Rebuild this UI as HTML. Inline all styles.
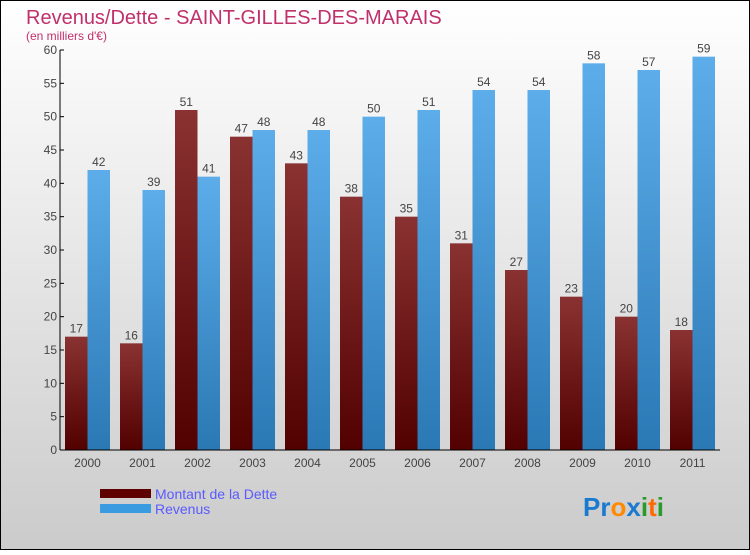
<!DOCTYPE html>
<html><head><meta charset="utf-8"><style>
html,body{margin:0;padding:0}
body{width:750px;height:550px;overflow:hidden;font-family:"Liberation Sans","DejaVu Sans",sans-serif}
</style></head><body>
<svg id="chart" width="750" height="550" xmlns="http://www.w3.org/2000/svg">
<defs>
<linearGradient id="bg" x1="0" y1="0" x2="0" y2="1"><stop offset="0" stop-color="#ffffff"/><stop offset="1" stop-color="#cbcbcb"/></linearGradient>
<linearGradient id="gd" x1="0" y1="0" x2="0" y2="1"><stop offset="0" stop-color="#8a3232"/><stop offset="1" stop-color="#520000"/></linearGradient>
<linearGradient id="gr" x1="0" y1="0" x2="0" y2="1"><stop offset="0" stop-color="#5cadea"/><stop offset="1" stop-color="#2a78b4"/></linearGradient>
</defs>
<rect x="0.5" y="0.5" width="749" height="549" fill="url(#bg)" stroke="#000"/>
<text x="26" y="24" font-size="20" fill="#c0306a">Revenus/Dette - SAINT-GILLES-DES-MARAIS</text>
<text x="26" y="40" font-size="12" fill="#c0306a">(en milliers d'€)</text>
<g id="grid"></g>
<g id="bars"></g>
<g id="axes"></g>
<g>
<rect x="100" y="489" width="51" height="9" fill="#5e0000"/>
<text x="155" y="499" font-size="14" fill="#5a5aff">Montant de la Dette</text>
<rect x="100" y="504" width="51" height="9" fill="#3a9be0"/>
<text x="155" y="514" font-size="14" fill="#5a5aff">Revenus</text>
</g>
<text x="583" y="516" font-size="26" font-weight="bold"><tspan fill="#1a7ad0">Pr</tspan><tspan fill="#ff8a00">o</tspan><tspan fill="#1a7ad0">x</tspan><tspan fill="#2a9a2a">i</tspan><tspan fill="#ff6a00">t</tspan><tspan fill="#2a9a2a">i</tspan></text>
</svg>
<script>
const years=["2000","2001","2002","2003","2004","2005","2006","2007","2008","2009","2010","2011"];
const dette=[17,16,51,47,43,38,35,31,27,23,20,18];
const revenus=[42,39,41,48,48,50,51,54,54,58,57,59];
const yTicks=[0,5,10,15,20,25,30,35,40,45,50,55,60];
const NS="http://www.w3.org/2000/svg";
const y=v=>450-v*400/60;
const x=i=>65+i*55;
const bw=22.5;
function mk(t,a,p,txt){const e=document.createElementNS(NS,t);for(const k in a)e.setAttribute(k,a[k]);if(txt!==undefined)e.textContent=txt;p.appendChild(e);return e;}
const bars=document.getElementById('bars'),axes=document.getElementById('axes');
years.forEach((yr,i)=>{
  const d=mk('rect',{x:x(i),y:y(dette[i]),width:bw,height:450-y(dette[i]),fill:'url(#gd)'},bars);
  
  
  const r=mk('rect',{x:x(i)+bw,y:y(revenus[i]),width:bw,height:450-y(revenus[i]),fill:'url(#gr)'},bars);
  
  
  const dl=mk('text',{x:x(i)+bw/2,y:y(dette[i])-4,'font-size':12,fill:'#444','text-anchor':'middle'},bars,dette[i]);
  
  
  const rl=mk('text',{x:x(i)+bw*1.5,y:y(revenus[i])-4,'font-size':12,fill:'#444','text-anchor':'middle'},bars,revenus[i]);
  
  
  const xl=mk('text',{x:x(i)+bw,y:467,'font-size':12,fill:'#444','text-anchor':'middle'},axes,yr);
  
  
});
const ya=mk('line',{x1:60,y1:50,x2:60,y2:450,stroke:'#000'},axes);


const xa=mk('line',{x1:60,y1:450,x2:720,y2:450,stroke:'#000'},axes);


yTicks.forEach(v=>{
  const t=mk('line',{x1:60,y1:y(v),x2:64,y2:y(v),stroke:'#000'},axes);
  
  
  const l=mk('text',{x:57,y:y(v)+4,'font-size':12,fill:'#444','text-anchor':'end'},axes,v);
  
  
});
</script>
</body></html>
